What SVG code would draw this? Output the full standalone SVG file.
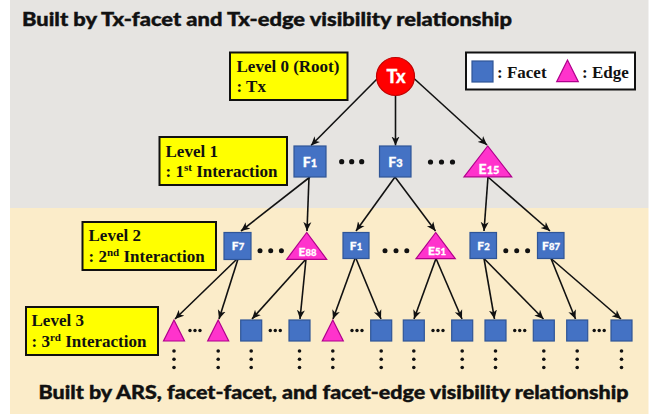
<svg xmlns="http://www.w3.org/2000/svg" width="659" height="416" viewBox="0 0 659 416">
<style>
.title{font-family:Lato,"Liberation Sans",sans-serif;font-weight:900;font-size:18px;fill:#111;stroke:#111;stroke-width:0.4}
.lvl{font-family:"Liberation Serif","Times New Roman",serif;font-weight:bold;font-size:17px;fill:#111}
.sup{font-size:11px}
.box{fill:#ffff00;stroke:#111;stroke-width:2}
.fac{fill:#4472c4;stroke:#2f5597;stroke-width:1.2}
.edg{fill:#ff33cc;stroke:#b0008c;stroke-width:1.2}
.nl{font-family:Lato,"Liberation Sans",sans-serif;font-weight:900;fill:#fff;text-anchor:middle;stroke:#fff;stroke-width:0.3}
.dot{fill:#111}
#connectors line{stroke:#111;stroke-width:1.6;marker-end:url(#ah)}
</style>
<defs>
<marker id="ah" markerUnits="userSpaceOnUse" markerWidth="10" markerHeight="9" refX="9" refY="4.5" orient="auto">
<path d="M0,0.5 L9,4.5 L0,8.5 L2.5,4.5 z" fill="#111"/>
</marker>
</defs>
<rect x="0" y="0" width="659" height="416" fill="#ffffff"/>
<rect x="10" y="0" width="638.5" height="208" fill="#e6e4e1"/>
<rect x="10" y="208" width="638.5" height="206" fill="#fbecc9"/>

<text class="title" x="22" y="26" textLength="490" lengthAdjust="spacingAndGlyphs">Built by Tx-facet and Tx-edge visibility relationship</text>
<text class="title" x="38.5" y="398.5" textLength="590" lengthAdjust="spacingAndGlyphs">Built by ARS, facet-facet, and facet-edge visibility relationship</text>

<g id="label-level0">
<rect class="box" x="230" y="52.5" width="117.5" height="47.5"/>
<text class="lvl" x="236.5" y="71.5">Level 0 (Root)</text>
<text class="lvl" x="236.5" y="91.5">: Tx</text>
</g>
<g id="label-level1">
<rect class="box" x="159.5" y="137" width="127.5" height="48"/>
<text class="lvl" x="165.5" y="156.5">Level 1</text>
<text class="lvl" x="165.5" y="176.5">: 1<tspan class="sup" dy="-6">st</tspan><tspan dy="6"> Interaction</tspan></text>
</g>
<g id="label-level2">
<rect class="box" x="82.5" y="222" width="133.5" height="48"/>
<text class="lvl" x="88.5" y="241">Level 2</text>
<text class="lvl" x="88.5" y="262">: 2<tspan class="sup" dy="-6">nd</tspan><tspan dy="6"> Interaction</tspan></text>
</g>
<g id="label-level3">
<rect class="box" x="26" y="307" width="132" height="48"/>
<text class="lvl" x="31.5" y="326">Level 3</text>
<text class="lvl" x="31.5" y="346.5">: 3<tspan class="sup" dy="-6">rd</tspan><tspan dy="6"> Interaction</tspan></text>
</g>

<g id="legend">
<rect x="466" y="52.5" width="169" height="37" fill="#fff" stroke="#111" stroke-width="2"/>
<rect class="fac" x="472" y="61" width="21" height="21"/>
<text class="lvl" x="497" y="77.5">: Facet</text>
<polygon class="edg" points="567.5,60 556.7,81.7 578.3,81.7"/>
<text class="lvl" x="582" y="77.5">: Edge</text>
</g>

<g id="connectors">
<line x1="377" y1="79" x2="311" y2="145.5"/>
<line x1="395.5" y1="96" x2="395.5" y2="145.5"/>
<line x1="413.5" y1="78" x2="487" y2="145"/>
<line x1="310" y1="177" x2="241" y2="231"/>
<line x1="309" y1="177" x2="307" y2="231"/>
<line x1="395" y1="177" x2="356" y2="231"/>
<line x1="395" y1="177" x2="435.5" y2="231"/>
<line x1="488" y1="177" x2="484" y2="231"/>
<line x1="488" y1="177" x2="550" y2="231"/>
<line x1="237" y1="259" x2="175" y2="319"/>
<line x1="238" y1="259" x2="219" y2="319"/>
<line x1="306" y1="259" x2="252" y2="319"/>
<line x1="306" y1="259" x2="300" y2="319"/>
<line x1="355" y1="258.5" x2="333" y2="319"/>
<line x1="356" y1="258.5" x2="381" y2="319"/>
<line x1="436" y1="258.5" x2="414" y2="319"/>
<line x1="436" y1="258.5" x2="462" y2="319"/>
<line x1="484" y1="258.5" x2="494.5" y2="319"/>
<line x1="484" y1="258.5" x2="543.5" y2="319"/>
<line x1="551" y1="258.5" x2="575.5" y2="319"/>
<line x1="551" y1="258.5" x2="621" y2="319"/>
</g>

<g id="node-Tx">
<circle cx="395.5" cy="76.5" r="19" fill="#ff0000" stroke="#c00000" stroke-width="1.2"/>
<text class="nl" x="396" y="83" font-size="18">Tx</text>
</g>
<g id="node-F1">
<rect class="fac" x="294" y="146" width="32" height="31"/>
<text class="nl" x="310" y="167" font-size="14">F<tspan font-size="11">1</tspan></text>
</g>
<g id="node-F3">
<rect class="fac" x="379.5" y="146" width="31.5" height="31"/>
<text class="nl" x="395.5" y="167" font-size="14">F<tspan font-size="11">3</tspan></text>
</g>
<g id="node-E15">
<polygon class="edg" points="487.7,146 464,176.8 511.7,176.8"/>
<text class="nl" x="489" y="174" font-size="14">E<tspan font-size="11">15</tspan></text>
</g>
<g id="dots-level1">
<circle class="dot" cx="341.7" cy="161.7" r="2.6"/><circle class="dot" cx="351.7" cy="161.7" r="2.6"/><circle class="dot" cx="361.7" cy="161.7" r="2.6"/>
<circle class="dot" cx="430.5" cy="162" r="2.6"/><circle class="dot" cx="441.5" cy="162" r="2.6"/><circle class="dot" cx="452.5" cy="162" r="2.6"/>
</g>

<g id="node-F7">
<rect class="fac" x="224" y="232.5" width="27" height="27"/>
<text class="nl" x="238" y="250" font-size="12">F<tspan font-size="9.5">7</tspan></text>
</g>
<g id="node-E88">
<polygon class="edg" points="306.7,232.5 286.7,259.3 326.7,259.3"/>
<text class="nl" x="307.5" y="256" font-size="12">E<tspan font-size="9.5">88</tspan></text>
</g>
<g id="node-F1b">
<rect class="fac" x="343" y="232.5" width="26" height="26"/>
<text class="nl" x="356" y="249.5" font-size="12">F<tspan font-size="9.5">1</tspan></text>
</g>
<g id="node-E51">
<polygon class="edg" points="435.7,232.5 416,258.7 455.3,258.7"/>
<text class="nl" x="437" y="255" font-size="12">E<tspan font-size="9.5">51</tspan></text>
</g>
<g id="node-F2">
<rect class="fac" x="470" y="232.5" width="26.5" height="26"/>
<text class="nl" x="483.5" y="249.5" font-size="12">F<tspan font-size="9.5">2</tspan></text>
</g>
<g id="node-F87">
<rect class="fac" x="537.5" y="232.5" width="26.5" height="26"/>
<text class="nl" x="551" y="249.5" font-size="12">F<tspan font-size="9.5">87</tspan></text>
</g>
<g id="dots-level2">
<circle class="dot" cx="260" cy="250.7" r="2.5"/><circle class="dot" cx="270.7" cy="250.7" r="2.5"/><circle class="dot" cx="281.4" cy="250.7" r="2.5"/>
<circle class="dot" cx="385" cy="250.7" r="2.5"/><circle class="dot" cx="396" cy="250.7" r="2.5"/><circle class="dot" cx="406.8" cy="250.7" r="2.5"/>
<circle class="dot" cx="505.8" cy="250.7" r="2.5"/><circle class="dot" cx="516.7" cy="250.7" r="2.5"/><circle class="dot" cx="527.6" cy="250.7" r="2.5"/>
</g>

<g id="level3-nodes">
<polygon id="n3-1" class="edg" points="174,320 163.5,341 184.5,341"/>
<polygon id="n3-2" class="edg" points="218.2,320 207.7,341 228.7,341"/>
<rect id="n3-3" class="fac" x="240.7" y="320" width="21" height="21"/>
<rect id="n3-4" class="fac" x="289" y="320" width="21" height="21"/>
<polygon id="n3-5" class="edg" points="332.8,320 322.3,341 343.3,341"/>
<rect id="n3-6" class="fac" x="370.7" y="320" width="21" height="21"/>
<rect id="n3-7" class="fac" x="403.3" y="320" width="21" height="21"/>
<rect id="n3-8" class="fac" x="451.7" y="320" width="21" height="21"/>
<rect id="n3-9" class="fac" x="485" y="320" width="21" height="21"/>
<rect id="n3-10" class="fac" x="533.3" y="320" width="21" height="21"/>
<rect id="n3-11" class="fac" x="566.7" y="320" width="21" height="21"/>
<rect id="n3-12" class="fac" x="611" y="320" width="21" height="21"/>
</g>
<g id="dots-level3" class="dot">
<circle cx="190" cy="330.5" r="1.7"/><circle cx="195" cy="330.5" r="1.7"/><circle cx="200" cy="330.5" r="1.7"/>
<circle cx="270.3" cy="330.5" r="1.7"/><circle cx="275.3" cy="330.5" r="1.7"/><circle cx="280.3" cy="330.5" r="1.7"/>
<circle cx="352" cy="330.5" r="1.7"/><circle cx="357" cy="330.5" r="1.7"/><circle cx="362" cy="330.5" r="1.7"/>
<circle cx="433" cy="330.5" r="1.7"/><circle cx="438" cy="330.5" r="1.7"/><circle cx="443" cy="330.5" r="1.7"/>
<circle cx="514.7" cy="330.5" r="1.7"/><circle cx="519.7" cy="330.5" r="1.7"/><circle cx="524.7" cy="330.5" r="1.7"/>
<circle cx="594.2" cy="330.5" r="1.7"/><circle cx="599.2" cy="330.5" r="1.7"/><circle cx="604.2" cy="330.5" r="1.7"/>
</g>
<g id="vdots" class="dot">
<circle cx="174" cy="351" r="1.8"/><circle cx="174" cy="359.3" r="1.8"/><circle cx="174" cy="367.5" r="1.8"/>
<circle cx="218.2" cy="351" r="1.8"/><circle cx="218.2" cy="359.3" r="1.8"/><circle cx="218.2" cy="367.5" r="1.8"/>
<circle cx="251.2" cy="351" r="1.8"/><circle cx="251.2" cy="359.3" r="1.8"/><circle cx="251.2" cy="367.5" r="1.8"/>
<circle cx="299.5" cy="351" r="1.8"/><circle cx="299.5" cy="359.3" r="1.8"/><circle cx="299.5" cy="367.5" r="1.8"/>
<circle cx="332.8" cy="351" r="1.8"/><circle cx="332.8" cy="359.3" r="1.8"/><circle cx="332.8" cy="367.5" r="1.8"/>
<circle cx="381.2" cy="351" r="1.8"/><circle cx="381.2" cy="359.3" r="1.8"/><circle cx="381.2" cy="367.5" r="1.8"/>
<circle cx="413.8" cy="351" r="1.8"/><circle cx="413.8" cy="359.3" r="1.8"/><circle cx="413.8" cy="367.5" r="1.8"/>
<circle cx="462.2" cy="351" r="1.8"/><circle cx="462.2" cy="359.3" r="1.8"/><circle cx="462.2" cy="367.5" r="1.8"/>
<circle cx="495.5" cy="351" r="1.8"/><circle cx="495.5" cy="359.3" r="1.8"/><circle cx="495.5" cy="367.5" r="1.8"/>
<circle cx="543.8" cy="351" r="1.8"/><circle cx="543.8" cy="359.3" r="1.8"/><circle cx="543.8" cy="367.5" r="1.8"/>
<circle cx="577.2" cy="351" r="1.8"/><circle cx="577.2" cy="359.3" r="1.8"/><circle cx="577.2" cy="367.5" r="1.8"/>
<circle cx="621.5" cy="351" r="1.8"/><circle cx="621.5" cy="359.3" r="1.8"/><circle cx="621.5" cy="367.5" r="1.8"/>
</g>
</svg>
